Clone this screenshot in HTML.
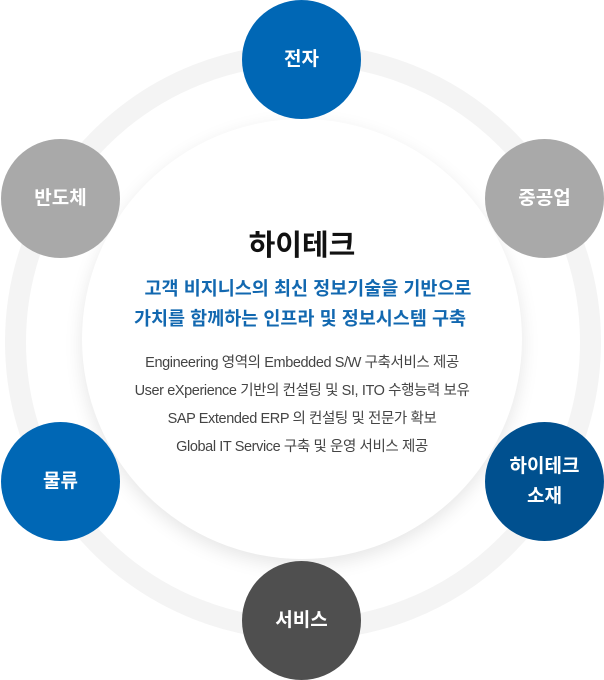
<!DOCTYPE html>
<html><head><meta charset="utf-8"><style>
html,body{margin:0;padding:0;background:#fff;}
body{width:604px;height:680px;position:relative;overflow:hidden;font-family:"Liberation Sans","Noto Sans CJK KR",sans-serif;}
.ring{position:absolute;left:5px;top:44px;width:554px;height:554px;border:21px solid #f4f4f4;border-radius:50%;}
.inner{position:absolute;left:82px;top:119px;width:440px;height:440px;border-radius:50%;background:#fff;box-shadow:0 6px 18px rgba(0,0,0,0.10);}
.c{position:absolute;width:119px;height:119px;border-radius:50%;color:#fff;font-weight:bold;font-size:19px;display:flex;align-items:center;justify-content:center;text-align:center;line-height:30px;}
.t{position:absolute;left:0;width:604px;text-align:center;}
</style></head><body>
<div class="ring"></div>
<div class="inner"></div>
<div class="c" style="left:242px;top:0;background:#0067b5">전자</div>
<div class="c" style="left:1px;top:139px;background:#a9a9a9">반도체</div>
<div class="c" style="left:485px;top:139px;background:#a9a9a9">중공업</div>
<div class="c" style="left:1px;top:422px;background:#0067b5">물류</div>
<div class="c" style="left:485px;top:422px;background:#00508f">하이테크<br>소재</div>
<div class="c" style="left:242px;top:561px;background:#4f4f4f">서비스</div>
<div class="t" style="top:222px;font-size:29px;font-weight:bold;color:#111">하이테크</div>
<div class="t" style="top:275px;font-size:18.5px;font-weight:bold;color:#1268b0;padding-left:12px;box-sizing:border-box">고객 비지니스의 최신 정보기술을 기반으로</div>
<div class="t" style="top:305px;font-size:18.5px;font-weight:bold;color:#1268b0;padding-right:4px;box-sizing:border-box">가치를 함께하는 인프라 및 정보시스템 구축</div>
<div class="t" style="top:351px;font-size:14.5px;color:#444;letter-spacing:-0.4px">Engineering 영역의 Embedded S/W 구축서비스 제공</div>
<div class="t" style="top:379px;font-size:14.5px;color:#444;letter-spacing:-0.4px">User eXperience 기반의 컨설팅 및 SI, ITO 수행능력 보유</div>
<div class="t" style="top:407px;font-size:14.5px;color:#444;letter-spacing:-0.4px">SAP Extended ERP 의 컨설팅 및 전문가 확보</div>
<div class="t" style="top:435px;font-size:14.5px;color:#444;letter-spacing:-0.4px">Global IT Service 구축 및 운영 서비스 제공</div>
</body></html>
